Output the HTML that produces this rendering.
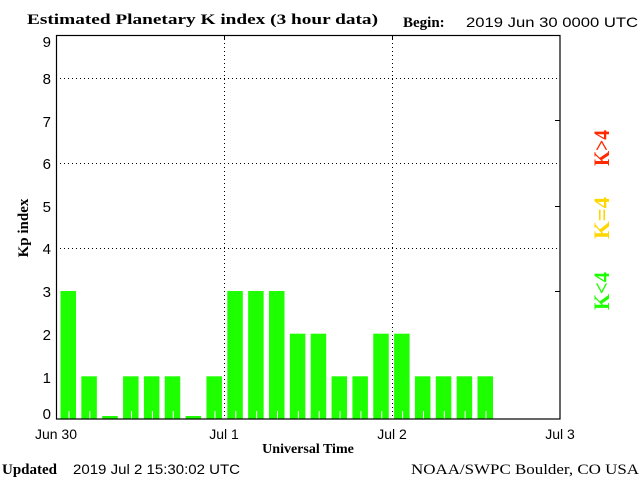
<!DOCTYPE html>
<html><head><style>body{margin:0;background:#fff}svg{display:block}</style></head><body>
<svg width="640" height="480" xmlns="http://www.w3.org/2000/svg">
<rect width="640" height="480" fill="#fff"/>
<text x="27" y="24" font-family="Liberation Serif, serif" font-weight="bold" font-size="15" textLength="351" lengthAdjust="spacingAndGlyphs">Estimated Planetary K index (3 hour data)</text>
<text x="403" y="27" font-family="Liberation Serif, serif" font-weight="bold" font-size="15">Begin:</text>
<text x="466" y="27" font-family="Liberation Sans, sans-serif" font-size="14" textLength="172" lengthAdjust="spacingAndGlyphs">2019 Jun 30 0000 UTC</text>
<g stroke="#000" stroke-width="1" stroke-dasharray="1,3">
<line x1="56" y1="78.5" x2="560" y2="78.5"/>
<line x1="56" y1="163.5" x2="560" y2="163.5"/>
<line x1="56" y1="248.5" x2="560" y2="248.5"/>
<line x1="224.5" y1="35" x2="224.5" y2="419"/>
<line x1="392.5" y1="35" x2="392.5" y2="419"/>
</g>
<g fill="#1eff00">
<rect x="60.5" y="291" width="15.5" height="128"/>
<rect x="81.35" y="376.3" width="15.5" height="42.7"/>
<rect x="102.2" y="416" width="15.5" height="3"/>
<rect x="123.05" y="376.3" width="15.5" height="42.7"/>
<rect x="143.9" y="376.3" width="15.5" height="42.7"/>
<rect x="164.75" y="376.3" width="15.5" height="42.7"/>
<rect x="185.6" y="416" width="15.5" height="3"/>
<rect x="206.45" y="376.3" width="15.5" height="42.7"/>
<rect x="227.3" y="291" width="15.5" height="128"/>
<rect x="248.15" y="291" width="15.5" height="128"/>
<rect x="269" y="291" width="15.5" height="128"/>
<rect x="289.85" y="333.7" width="15.5" height="85.3"/>
<rect x="310.7" y="333.7" width="15.5" height="85.3"/>
<rect x="331.55" y="376.3" width="15.5" height="42.7"/>
<rect x="352.4" y="376.3" width="15.5" height="42.7"/>
<rect x="373.25" y="333.7" width="15.5" height="85.3"/>
<rect x="394.1" y="333.7" width="15.5" height="85.3"/>
<rect x="414.95" y="376.3" width="15.5" height="42.7"/>
<rect x="435.8" y="376.3" width="15.5" height="42.7"/>
<rect x="456.65" y="376.3" width="15.5" height="42.7"/>
<rect x="477.5" y="376.3" width="15.5" height="42.7"/>
</g>
<g fill="#fff">
<rect x="68.5" y="411" width="1" height="8"/>
<rect x="89.35" y="411" width="1" height="8"/>
<rect x="131.05" y="411" width="1" height="8"/>
<rect x="151.9" y="411" width="1" height="8"/>
<rect x="172.75" y="411" width="1" height="8"/>
<rect x="214.45" y="411" width="1" height="8"/>
<rect x="235.3" y="411" width="1" height="8"/>
<rect x="256.15" y="411" width="1" height="8"/>
<rect x="277" y="411" width="1" height="8"/>
<rect x="297.85" y="411" width="1" height="8"/>
<rect x="318.7" y="411" width="1" height="8"/>
<rect x="339.55" y="411" width="1" height="8"/>
<rect x="360.4" y="411" width="1" height="8"/>
<rect x="381.25" y="411" width="1" height="8"/>
<rect x="402.1" y="411" width="1" height="8"/>
<rect x="422.95" y="411" width="1" height="8"/>
<rect x="443.8" y="411" width="1" height="8"/>
<rect x="464.65" y="411" width="1" height="8"/>
<rect x="485.5" y="411" width="1" height="8"/>
</g>
<rect x="56.5" y="35.5" width="503.5" height="383.5" fill="none" stroke="#000" stroke-width="1.2"/>
<g stroke="#000">
<line x1="555" y1="120.5" x2="560" y2="120.5"/>
<line x1="555" y1="206.5" x2="560" y2="206.5"/>
<line x1="555" y1="291.5" x2="560" y2="291.5"/>
<line x1="224.5" y1="35" x2="224.5" y2="40"/>
<line x1="392.5" y1="35" x2="392.5" y2="40"/>
</g>
<g font-family="Liberation Sans, sans-serif" font-size="15" text-anchor="end">
<text x="51" y="47">9</text><text x="51" y="84">8</text><text x="51" y="127">7</text>
<text x="51" y="169">6</text><text x="51" y="212">5</text><text x="51" y="254">4</text>
<text x="51" y="297">3</text><text x="51" y="340">2</text><text x="51" y="383">1</text>
<text x="51" y="419">0</text>
</g>
<g font-family="Liberation Sans, sans-serif" font-size="14" text-anchor="middle">
<text x="56" y="439">Jun 30</text><text x="224" y="439">Jul 1</text>
<text x="392" y="439">Jul 2</text><text x="560" y="439">Jul 3</text>
</g>
<text x="308" y="453" font-family="Liberation Serif, serif" font-weight="bold" font-size="14" text-anchor="middle">Universal Time</text>
<text transform="translate(28,228) rotate(-90)" font-family="Liberation Serif, serif" font-weight="bold" font-size="15" text-anchor="middle">Kp index</text>
<g font-family="Liberation Serif, serif" font-weight="bold" font-size="22" text-anchor="middle">
<text transform="translate(609,148) rotate(-90)" fill="#ff2a00" textLength="36" lengthAdjust="spacingAndGlyphs">K&gt;4</text>
<text transform="translate(609,218) rotate(-90)" fill="#ffd700" textLength="42" lengthAdjust="spacingAndGlyphs">K=4</text>
<text transform="translate(609,291) rotate(-90)" fill="#1eff00" textLength="38" lengthAdjust="spacingAndGlyphs">K&lt;4</text>
</g>
<text x="2" y="474" font-family="Liberation Serif, serif" font-weight="bold" font-size="15">Updated</text>
<text x="73" y="474" font-family="Liberation Sans, sans-serif" font-size="14" textLength="167" lengthAdjust="spacingAndGlyphs">2019 Jul  2 15:30:02 UTC</text>
<text x="411" y="474" font-family="Liberation Serif, serif" font-size="15" textLength="228" lengthAdjust="spacingAndGlyphs">NOAA/SWPC Boulder, CO USA</text>
</svg>
</body></html>
